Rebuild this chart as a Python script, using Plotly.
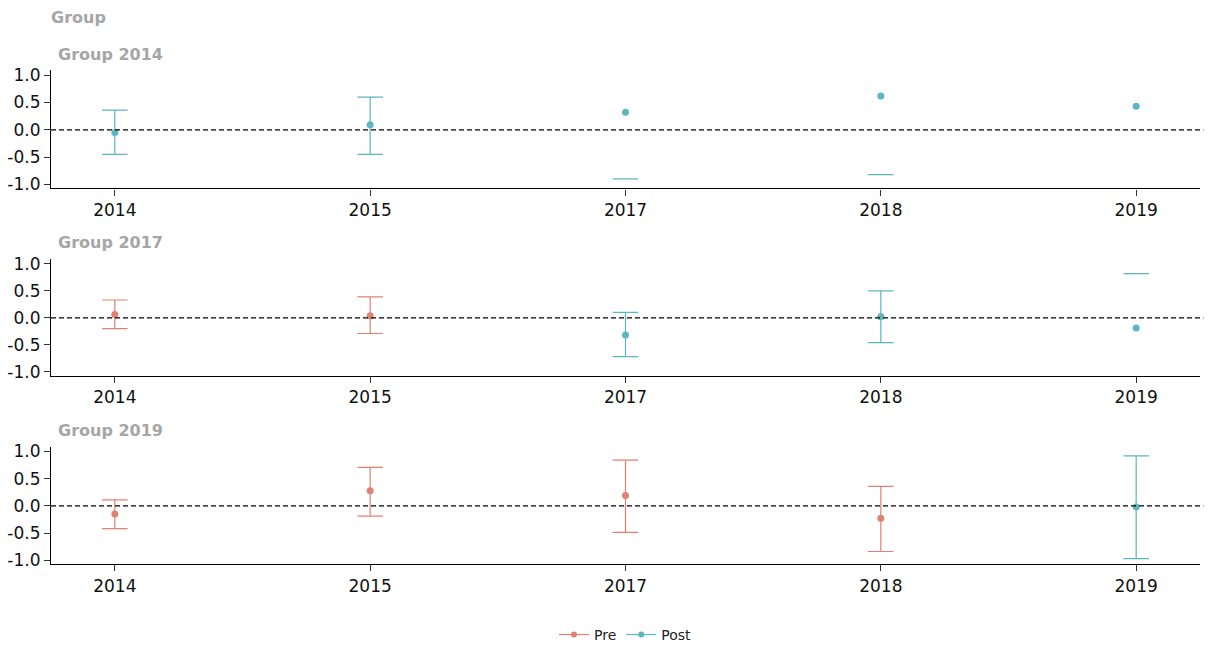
import plotly.graph_objects as go

# ---- data ----
years = ["2014", "2015", "2017", "2018", "2019"]
groups = ["Group 2014", "Group 2017", "Group 2019"]

# per group: period, estimate, lower, upper (one entry per year)
g2014_period = ["Post", "Post", "Post", "Post", "Post"]
g2014_est = [-0.05, 0.09, 0.32, 0.62, 0.43]
g2014_lo = [-0.45, -0.45, -0.90, -0.82, -1.30]
g2014_hi = [0.36, 0.60, 1.54, 2.06, 2.16]

g2017_period = ["Pre", "Pre", "Post", "Post", "Post"]
g2017_est = [0.06, 0.04, -0.32, 0.02, -0.19]
g2017_lo = [-0.20, -0.29, -0.72, -0.46, -1.20]
g2017_hi = [0.33, 0.39, 0.10, 0.50, 0.82]

g2019_period = ["Pre", "Pre", "Pre", "Pre", "Post"]
g2019_est = [-0.15, 0.28, 0.19, -0.23, -0.02]
g2019_lo = [-0.42, -0.19, -0.49, -0.84, -0.97]
g2019_hi = [0.11, 0.71, 0.84, 0.36, 0.92]

panels = [
    (g2014_period, g2014_est, g2014_lo, g2014_hi),
    (g2017_period, g2017_est, g2017_lo, g2017_hi),
    (g2019_period, g2019_est, g2019_lo, g2019_hi),
]

periods = ["Pre", "Post"]
colors = {"Pre": "#DF8272", "Post": "#5CB6BF"}
YLIM = (-1.0, 1.0)
CAP_HALF = 0.05
FONT = "DejaVu Sans"

# ---- layout geometry (paper fractions) ----
domains = [(0.7111, 0.8972), (0.4160, 0.6000), (0.1193, 0.3045)]
title_y = [0.9223, 0.6266, 0.3295]
yrange = [-1.075, 1.09]
xrange_ = [-0.25, 4.25]

fig = go.Figure()

for p, (per, est, lo, hi) in enumerate(panels):
    xa = "x" if p == 0 else f"x{p+1}"
    ya = "y" if p == 0 else f"y{p+1}"
    for s in periods:
        idx = [i for i in range(len(years)) if per[i] == s]
        if not idx:
            continue
        cx, cy, sx, sy = [], [], [], []
        for i in idx:
            lo_in = YLIM[0] <= lo[i] <= YLIM[1]
            hi_in = YLIM[0] <= hi[i] <= YLIM[1]
            for v, ok in ((lo[i], lo_in), (hi[i], hi_in)):
                if ok:
                    cx += [i - CAP_HALF, i + CAP_HALF, None]
                    cy += [v, v, None]
            if lo_in and hi_in:
                sx += [i, i, None]
                sy += [lo[i], hi[i], None]
        fig.add_trace(go.Scatter(x=cx, y=cy, mode="lines", xaxis=xa, yaxis=ya,
                                 line=dict(color=colors[s], width=1.2),
                                 showlegend=False, hoverinfo="skip"))
        fig.add_trace(go.Scatter(x=sx, y=sy, mode="lines", xaxis=xa, yaxis=ya,
                                 line=dict(color=colors[s], width=1.2),
                                 showlegend=False, hoverinfo="skip"))
        fig.add_trace(go.Scatter(x=idx, y=[est[i] for i in idx], mode="markers",
                                 xaxis=xa, yaxis=ya,
                                 marker=dict(color=colors[s], size=7),
                                 showlegend=False, name=s))

# legend entries
for s in periods:
    fig.add_trace(go.Scatter(x=[None], y=[None], mode="lines+markers", name=s,
                             line=dict(color=colors[s], width=1.2),
                             marker=dict(color=colors[s], size=6),
                             showlegend=True))

layout = {}
shapes = []
annotations = []
for p in range(3):
    xk = "xaxis" if p == 0 else f"xaxis{p+1}"
    yk = "yaxis" if p == 0 else f"yaxis{p+1}"
    xa = "x" if p == 0 else f"x{p+1}"
    ya = "y" if p == 0 else f"y{p+1}"
    layout[xk] = dict(domain=[0, 1], anchor=ya, range=xrange_,
                      tickmode="array", tickvals=list(range(len(years))),
                      ticktext=years, showline=True, linecolor="black",
                      linewidth=1.2, ticks="outside", ticklen=6, tickcolor="#333",
                      showgrid=False, zeroline=False, fixedrange=True,
                      tickfont=dict(family=FONT, size=17, color="#111"))
    layout[yk] = dict(domain=list(domains[p]), anchor=xa, range=yrange,
                      tickmode="array", tickvals=[-1, -0.5, 0, 0.5, 1],
                      ticktext=["-1.0", "-0.5", "0.0", "0.5", "1.0"],
                      showline=True, linecolor="black", linewidth=1.2,
                      ticks="outside", ticklen=6, tickcolor="#333",
                      showgrid=False, zeroline=False, fixedrange=True,
                      tickfont=dict(family=FONT, size=17, color="#111"))
    shapes.append(dict(type="line", xref=f"{xa} domain", yref=ya, x0=0, x1=1.003,
                       y0=0, y1=0, line=dict(color="black", width=1.3, dash="5px,3px")))
    annotations.append(dict(text="<b>" + groups[p] + "</b>", xref="paper", yref="paper",
                            x=0.004, y=title_y[p], xanchor="left", yanchor="middle",
                            showarrow=False,
                            font=dict(family=FONT, size=16, color="#A6A6A6")))

annotations.append(dict(text="<b>Group</b>", xref="paper", yref="paper",
                        x=-0.002, y=0.9801, xanchor="left", yanchor="middle", showarrow=False,
                        font=dict(family=FONT, size=16, color="#A6A6A6")))

fig.update_layout(
    width=1209, height=651,
    margin=dict(l=51, r=9, t=0, b=0),
    paper_bgcolor="white", plot_bgcolor="white",
    shapes=shapes, annotations=annotations,
    showlegend=True,
    legend=dict(orientation="h", x=0.5, xanchor="center", y=0.008, yanchor="middle",
                font=dict(family=FONT, size=14, color="#222"),
                itemwidth=30, tracegroupgap=0),
    **layout,
)

fig.write_html("out.html", config={"displayModeBar": False},
               post_script="document.body.style.margin='0';document.body.style.overflow='hidden';")
